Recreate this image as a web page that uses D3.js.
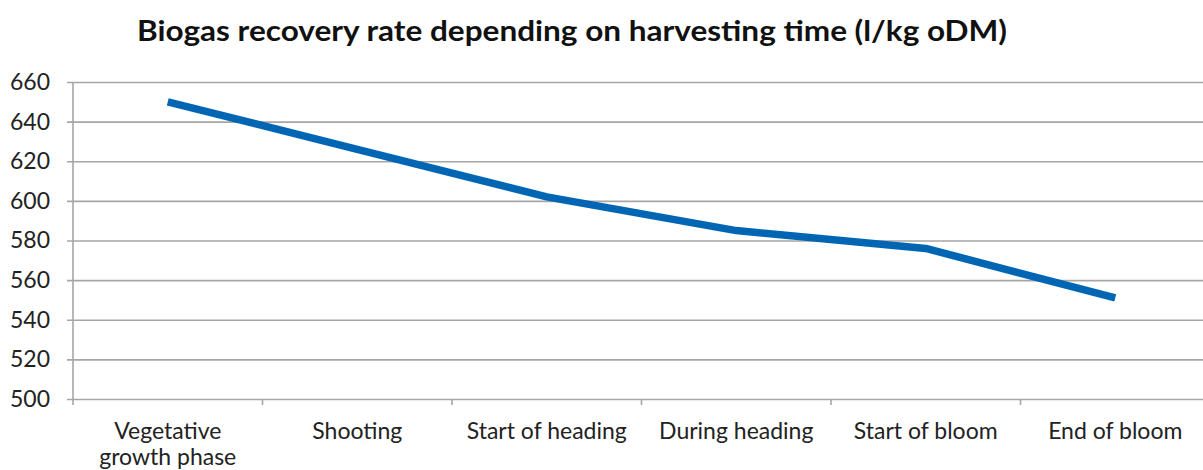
<!DOCTYPE html>
<html>
<head>
<meta charset="utf-8">
<script src="https://cdn.jsdelivr.net/npm/d3@7"></script>
<style>
  html, body { margin: 0; padding: 0; background: #fff; }
  svg { display: block; }
</style>
</head>
<body>
<svg id="chart" width="1203" height="470"></svg>
<script>
// Harvesting stages and biogas yield (l/kg oDM)
const stages = ["Vegetative growth phase", "Shooting", "Start of heading", "During heading", "Start of bloom", "End of bloom"];
const stageLines = [["Vegetative", "growth phase"], ["Shooting"], ["Start of heading"], ["During heading"], ["Start of bloom"], ["End of bloom"]];
const biogasYield = [650, 626, 602, 585, 576, 551];
const yTicks = [500, 520, 540, 560, 580, 600, 620, 640, 660];
const title = "Biogas recovery rate depending on harvesting time (l/kg oDM)";

const svg = d3.select("#chart");
const plot = { left: 73, right: 1210, top: 82, bottom: 399 };

const x = d3.scaleBand().domain(stages).range([plot.left, plot.right]).padding(0);
const y = d3.scaleLinear().domain([500, 660]).range([plot.bottom, plot.top]);

const labelFont = "Lato, 'Open Sans', sans-serif";

// Title
svg.append("text")
  .attr("x", 137).attr("y", 41)
  .attr("textLength", 870).attr("lengthAdjust", "spacingAndGlyphs")
  .style("font-family", labelFont)
  .style("font-weight", 700)
  .style("font-size", "29px")
  .style("fill", "#111")
  .text(title);

// Horizontal gridlines with left tick stubs
const yAxis = d3.axisLeft(y).tickValues(yTicks).tickSize(-(plot.right - plot.left)).tickPadding(23).tickSizeOuter(0);
const gy = svg.append("g").attr("transform", `translate(${plot.left},0)`).call(yAxis);
gy.select(".domain").remove();
gy.selectAll(".tick line")
  .attr("x1", -6)
  .attr("stroke", "#a6a6a6").attr("stroke-width", 1.6);
gy.selectAll(".tick text")
  .style("font-family", labelFont).style("font-size", "23px").style("fill", "#222");

// Vertical axis line
svg.append("line")
  .attr("x1", plot.left).attr("x2", plot.left)
  .attr("y1", plot.top).attr("y2", plot.bottom + 6)
  .attr("stroke", "#a6a6a6").attr("stroke-width", 1.6);

// Category boundary ticks below the baseline
const bounds = stages.map(s => x(s)).slice(1);
svg.append("g").selectAll("line").data(bounds).join("line")
  .attr("x1", d => d).attr("x2", d => d)
  .attr("y1", plot.bottom).attr("y2", plot.bottom + 6)
  .attr("stroke", "#a6a6a6").attr("stroke-width", 1.6);

// Category labels
const lbl = svg.append("g").selectAll("text").data(stages).join("text")
  .attr("x", d => x(d) + x.bandwidth() / 2)
  .attr("y", 439)
  .attr("text-anchor", "middle")
  .style("font-family", labelFont).style("font-size", "23px").style("fill", "#222");
lbl.each(function(d, i) {
  const t = d3.select(this);
  stageLines[i].forEach((ln, j) => {
    t.append("tspan").attr("x", x(d) + x.bandwidth() / 2).attr("dy", j === 0 ? 0 : 26).text(ln);
  });
});

// Yield line
const line = d3.line()
  .x((d, i) => x(stages[i]) + x.bandwidth() / 2)
  .y(d => y(d));
svg.append("path")
  .datum(biogasYield)
  .attr("d", line)
  .attr("fill", "none")
  .attr("stroke", "#0066b3")
  .attr("stroke-width", 7.5)
  .attr("stroke-linejoin", "round")
  .attr("stroke-linecap", "butt");
</script>
</body>
</html>
